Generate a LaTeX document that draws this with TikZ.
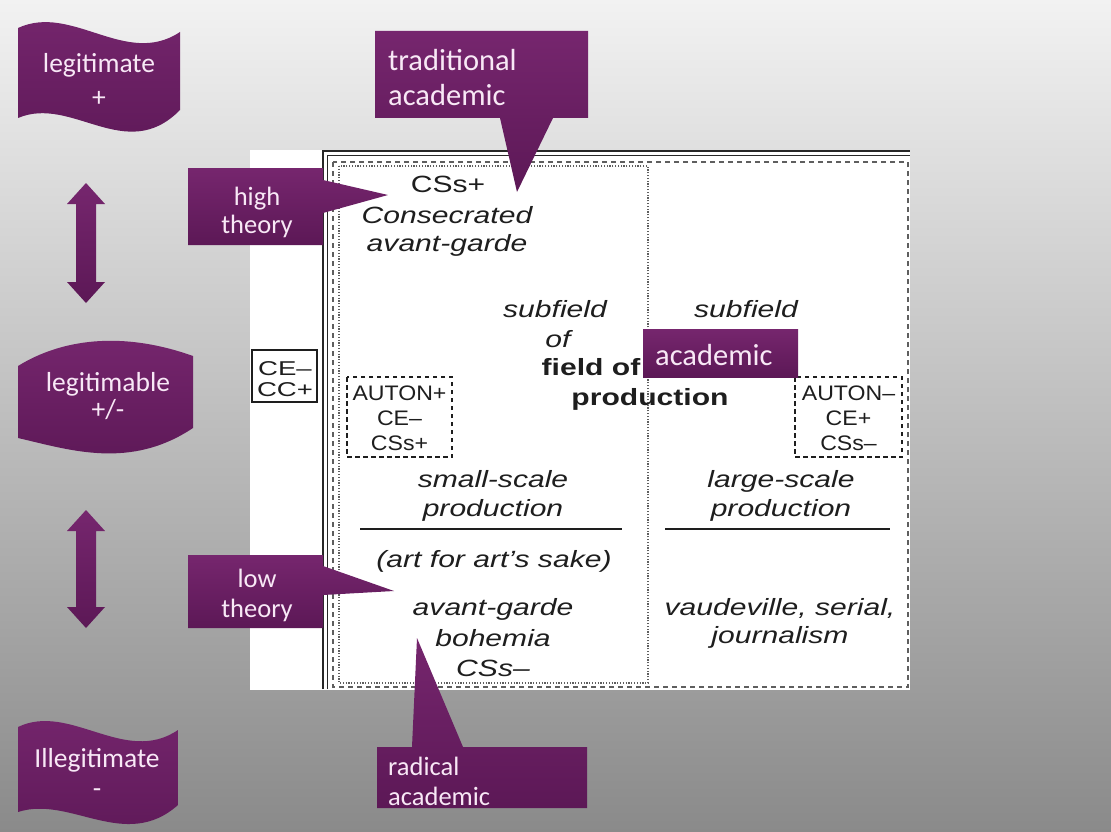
\documentclass[tikz,border=0pt]{standalone}
\usepackage{fontspec}
\setmainfont{Carlito}
\newfontfamily\hv{Liberation Sans}[FakeStretch=1.28]
\newfontfamily\hvn{Liberation Sans}[FakeStretch=1.1]
\newfontfamily\hvw{Liberation Sans}[FakeStretch=1.38]
\definecolor{bgtop}{RGB}{242,242,242}
\definecolor{bgbot}{RGB}{138,138,138}
\definecolor{ink}{RGB}{30,30,30}
\definecolor{purpL}{RGB}{118,38,110}
\definecolor{purpD}{RGB}{92,24,86}
\definecolor{pinkw}{RGB}{248,232,246}
\definecolor{frame}{RGB}{40,40,40}
\begin{document}
\begin{tikzpicture}[x=1pt,y=-1pt,
  txt/.style={inner sep=0pt,anchor=base,text=ink,font=\hv\fontsize{23.5}{28}\selectfont},
  txti/.style={inner sep=0pt,anchor=base,text=ink,font=\hv\itshape\fontsize{23.5}{28}\selectfont},
  txtb/.style={inner sep=0pt,anchor=base,text=ink,font=\hv\bfseries\fontsize{23.5}{28}\selectfont},
  txtn/.style={inner sep=0pt,anchor=base,text=ink,font=\hvn\fontsize{21}{25}\selectfont},
  txtc/.style={inner sep=0pt,anchor=base,text=ink,font=\hvw\fontsize{20}{24}\selectfont},
  purpfill/.style={top color=purpL,bottom color=purpD,draw=none},
  ptextw/.style={inner sep=0pt,anchor=base west,text=pinkw,font=\fontsize{30.5}{34}\selectfont},
  ctext/.style={inner sep=0pt,anchor=base,text=pinkw,font=\fontsize{26.5}{30}\selectfont},
  ftext/.style={inner sep=0pt,anchor=base,text=pinkw,font=\fontsize{27.5}{32}\selectfont},
  dashbox/.style={draw=ink,line width=2pt,dash pattern=on 4.5pt off 3.5pt},
  rule/.style={draw=ink,line width=2pt}
]
\useasboundingbox (0,0) rectangle (1111,832);
% background
\shade[top color=bgtop,bottom color=bgbot] (0,0) rectangle (1111,832);

% white panel
\fill[white] (250,150) rectangle (910,690);
\draw[frame,line width=2pt] (322.5,689) -- (322.5,151) -- (910,151);
\draw[frame,line width=1.2pt] (327.5,689) -- (327.5,155.5) -- (910,155.5);
\draw[frame!75,line width=1.3pt,dash pattern=on 5pt off 4pt] (333,162) rectangle (908,687);
\draw[frame!75,line width=1.2pt,dash pattern=on 1.2pt off 1.6pt] (339,166) rectangle (648,683);

% CE-/CC+ box
\draw[ink,line width=2pt] (252,350) rectangle (317,402);
\node[txtc] (ce1) at (285,375) {CE–};
\node[txtc] (cc1) at (285,396) {CC+};

% left column texts
\node[txt]  (css1) at (448,192) {CSs+};
\node[txti] (cons) at (447,223) {Consecrated};
\node[txti] (avg1) at (447,251) {avant-garde};
\node[txti] (sub1) at (555,317) {subfield};
\node[txti] (of1)  at (558,347) {of};
\node[txtb] (fld)  at (591,375) {field of};
\node[txtb] (prod) at (650,405) {production};
\node[txti] (sub2) at (746,317) {subfield};

% AUTON boxes
\draw[dashbox] (347,377) rectangle (452,457);
\node[txtn] (au1) at (399.5,400) {AUTON+};
\node[txtn] (au2) at (399.5,425) {CE–};
\node[txtn] (au3) at (399.5,450) {CSs+};
\draw[dashbox] (795,377) rectangle (902,457);
\node[txtn] (au4) at (848.5,400) {AUTON–};
\node[txtn] (au5) at (848.5,425) {CE+};
\node[txtn] (au6) at (848.5,450) {CSs–};

% lower texts
\node[txti] (ss1) at (493,487) {small-scale};
\node[txti] (ss2) at (493,516) {production};
\draw[rule] (360,529) -- (622,529);
\node[txti] (art) at (494,567) {(art for art’s sake)};
\node[txti] (avg2) at (493,615) {avant-garde};
\node[txti] (boh) at (493,646) {bohemia};
\node[txti] (css2) at (493,676) {CSs–};
\node[txti] (ls1) at (781,487) {large-scale};
\node[txti] (ls2) at (781,516) {production};
\draw[rule] (665,529) -- (890,529);
\node[txti] (vau) at (780,615) {vaudeville, serial,};
\node[txti] (jour) at (780,643) {journalism};

% flags
\shade[purpfill] (18,28) .. controls (72,3) and (126,68) .. (180,32) -- (180,110)
  .. controls (126,165) and (72,95) .. (18,118) -- cycle;
\node[ftext] (f1a) at (99,73) {legitimate};
\node[ftext] (f1b) at (99,107) {+};
\shade[purpfill] (18,366) .. controls (60,340) and (120,330) .. (193,356) -- (193,428)
  .. controls (130,470) and (70,450) .. (18,438) -- cycle;
\node[ftext] (f2a) at (108,391) {legitimable};
\node[ftext] (f2b) at (108,418) {+/-};
\shade[purpfill] (18,727) .. controls (70,702) and (125,766) .. (178,730) -- (178,805)
  .. controls (125,852) and (70,795) .. (18,812) -- cycle;
\node[ftext] (f3a) at (97,767) {Illegitimate};
\node[ftext] (f3b) at (97,797) {-};

% double arrows
\shade[purpfill] (86,183) -- (105,204) -- (96,204) -- (96,282) -- (105,282) -- (86,303)
  -- (67,282) -- (76,282) -- (76,204) -- (67,204) -- cycle;
\shade[purpfill] (86,510) -- (105,531) -- (96,531) -- (96,607) -- (105,607) -- (86,628)
  -- (67,607) -- (76,607) -- (76,531) -- (67,531) -- cycle;

% callouts
\shade[purpfill] (375,31) -- (588,31) -- (588,118) -- (553,118) -- (517,192) -- (500,118)
  -- (375,118) -- cycle;
\node[ptextw] (trad1) at (388,71) {traditional};
\node[ptextw] (trad2) at (388,106) {academic};

\shade[purpfill] (188,168) -- (323,168) -- (323,180) -- (388,195) -- (323,213) -- (323,245)
  -- (188,245) -- cycle;
\node[ctext] (ht1) at (257,205) {high};
\node[ctext] (ht2) at (257,233) {theory};

\shade[purpfill] (188,555) -- (323,555) -- (323,566) -- (394,591) -- (323,595) -- (323,628)
  -- (188,628) -- cycle;
\node[ctext] (lt1) at (257,587) {low};
\node[ctext] (lt2) at (257,617) {theory};

\shade[purpfill] (643,329) rectangle (798,377);
\node[ptextw] (acad) at (655,365) {academic};

\shade[purpfill] (377,747) -- (412,747) -- (417,638) -- (463,747) -- (587,747) -- (587,808)
  -- (377,808) -- cycle;
\node[ptextw,font=\fontsize{26.5}{30}\selectfont] (rad1) at (388,775) {radical};
\node[ptextw,font=\fontsize{26.5}{30}\selectfont] (rad2) at (388,805) {academic};
\end{tikzpicture}
\end{document}
